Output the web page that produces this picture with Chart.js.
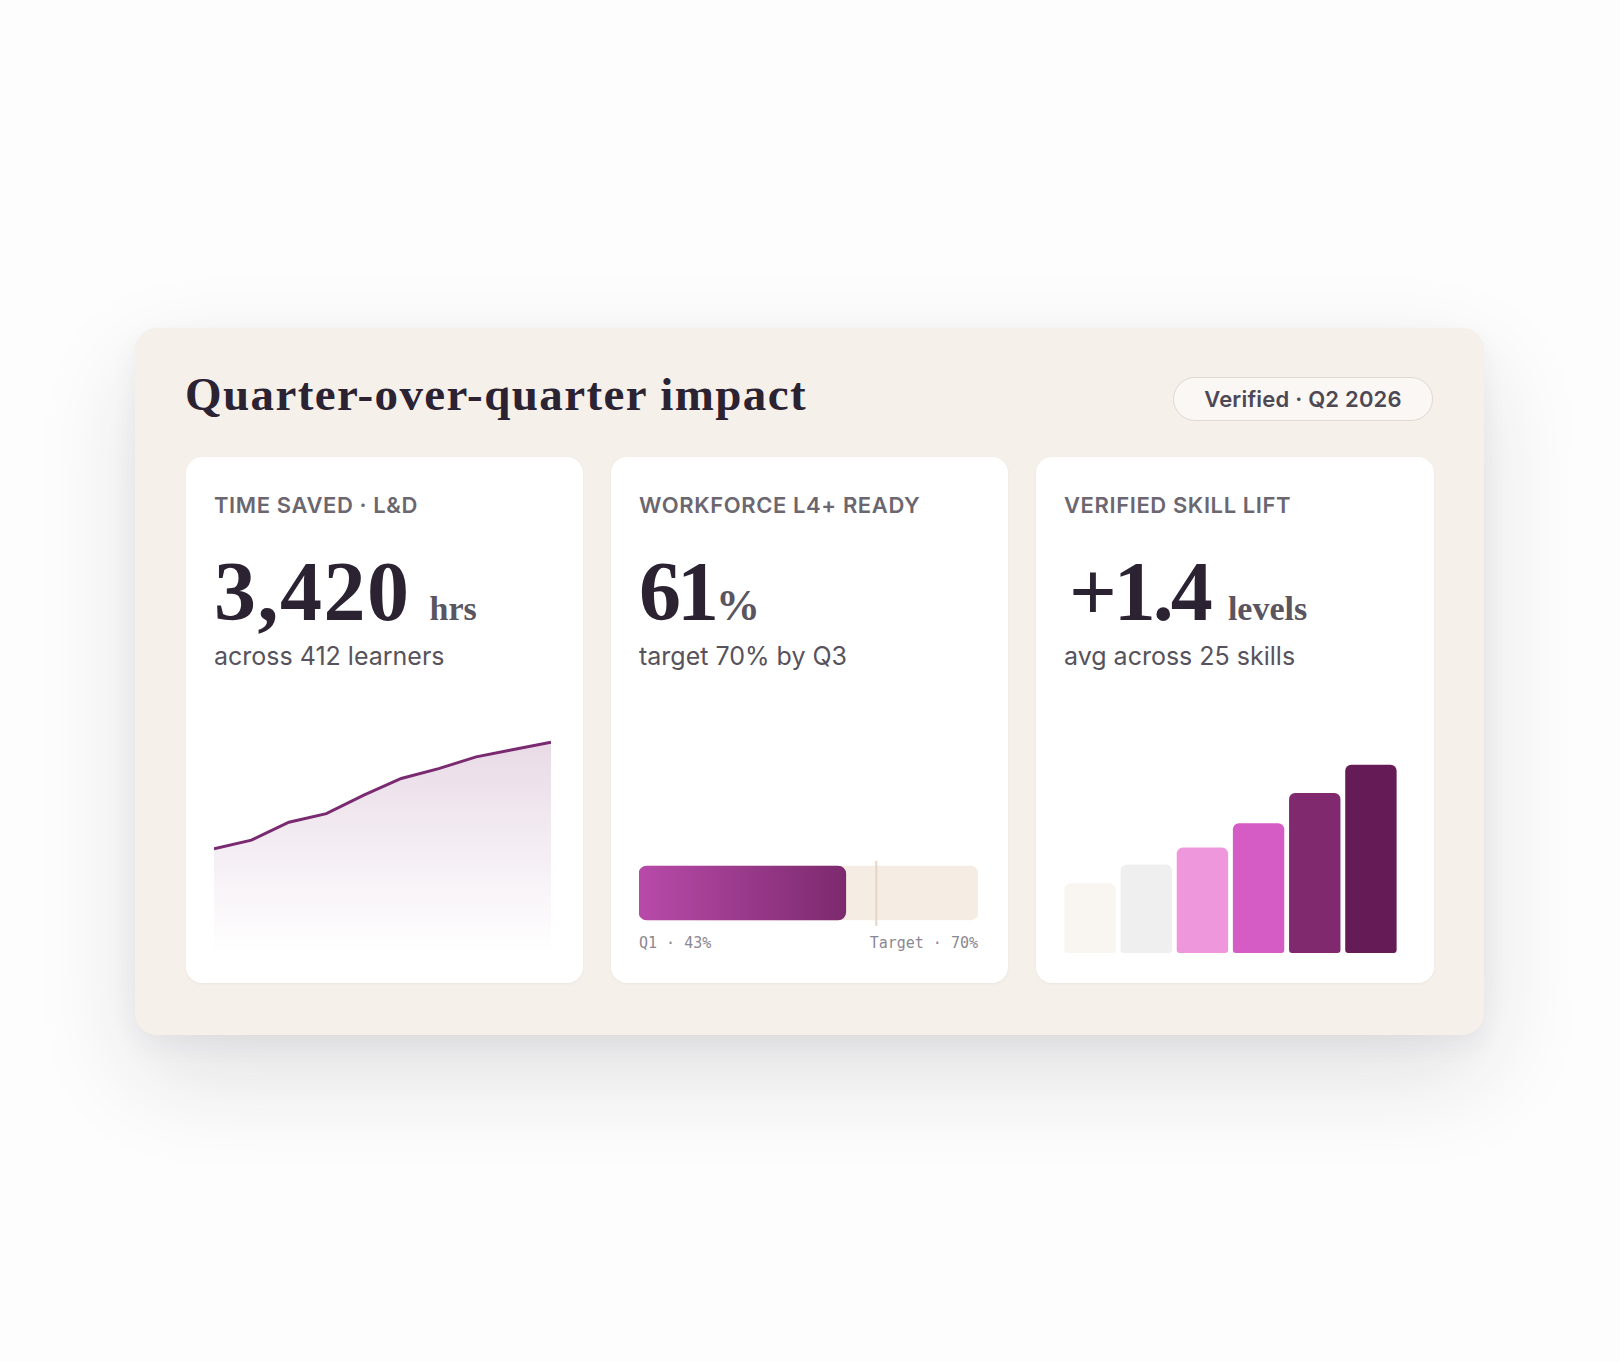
<!DOCTYPE html>
<html>
<head>
<meta charset="utf-8">
<script src="https://cdn.jsdelivr.net/npm/chart.js@4.4.1/dist/chart.umd.min.js"></script>
<style>
  html, body { margin: 0; padding: 0; }
  body { width: 1620px; height: 1362px; background: #fdfdfd; position: relative; overflow: hidden; }
  .outer {
    position: absolute; left: 135px; top: 328px; width: 1349px; height: 707px;
    background: #f5f0ea; border-radius: 22px;
    box-shadow: 0 40px 100px rgba(40, 30, 50, 0.13), 0 10px 26px rgba(40, 30, 50, 0.05);
  }
  .title {
    position: absolute; left: 50px; top: 43px; margin: 0;
    font-family: "Liberation Serif", serif; font-weight: 700; font-size: 47px; line-height: 1;
    letter-spacing: 1.4px; color: #2b2232; white-space: nowrap;
  }
  .badge {
    position: absolute; right: 51px; top: 49px; width: 258px; height: 42px;
    border: 1.5px solid #e1d9d1; border-radius: 24px; background: #faf7f4;
    display: flex; align-items: center; justify-content: center;
    font-family: Inter, sans-serif; font-weight: 600; font-size: 22px; letter-spacing: 0.2px; color: #4d4853;
  }
  .card {
    position: absolute; top: 129px; width: 397px; height: 526px;
    background: #ffffff; border-radius: 16px;
    box-shadow: 0 1px 3px rgba(80, 50, 30, 0.05);
  }
  .label {
    position: absolute; left: 28px; top: 37px; line-height: 1;
    font-family: Inter, sans-serif; font-weight: 600; font-size: 22px; letter-spacing: 0.6px;
    color: #6b6670; white-space: nowrap;
  }
  .big {
    position: absolute; left: 28px; top: 93px; line-height: 1; white-space: nowrap;
    font-family: "Liberation Serif", serif; font-weight: 700; color: #2b2232;
  }
  .big .num { font-size: 84px; }
  .big .unit { font-size: 34px; color: #5b5560; }
  .sub {
    position: absolute; left: 28px; top: 187px; line-height: 1;
    font-family: Inter, sans-serif; font-weight: 400; font-size: 25px; color: #57525c; white-space: nowrap;
  }
  .chartbox { position: absolute; }
  .mono {
    position: absolute; top: 479px; line-height: 1;
    font-family: "DejaVu Sans Mono", monospace; font-size: 15px; color: #8c8790; white-space: nowrap;
  }
</style>
</head>
<body>
<div class="outer">
  <h1 class="title">Quarter-over-quarter impact</h1>
  <div class="badge">Verified · Q2 2026</div>

  <div class="card" style="left:51px;">
    <div class="label">TIME SAVED · L&amp;D</div>
    <div class="big"><span class="num" style="letter-spacing:1.5px;">3,420</span><span class="unit" style="margin-left:19px;">hrs</span></div>
    <div class="sub">across 412 learners</div>
    <div class="chartbox" style="left:28px; top:274px; width:337px; height:222px;"><canvas id="lineChart"></canvas></div>
  </div>

  <div class="card" style="left:476px;">
    <div class="label">WORKFORCE L4+ READY</div>
    <div class="big"><span class="num" style="letter-spacing:-4px;">61</span><span class="unit" style="font-size:44px; margin-left:1px;">%</span></div>
    <div class="sub">target 70% by Q3</div>
    <div class="chartbox" style="left:28px; top:401px; width:339px; height:70px;"><canvas id="progChart"></canvas></div>
    <div class="mono" style="left:28px;">Q1 · 43%</div>
    <div class="mono" style="right:30px;">Target · 70%</div>
  </div>

  <div class="card" style="left:901px; width:398px;">
    <div class="label">VERIFIED SKILL LIFT</div>
    <div class="big" style="left:33px;"><span class="num" style="letter-spacing:-3px;">+1.4</span><span class="unit" style="margin-left:18px;">levels</span></div>
    <div class="sub">avg across 25 skills</div>
    <div class="chartbox" style="left:26px; top:289px; width:337px; height:207px;"><canvas id="barChart"></canvas></div>
  </div>
</div>

<script>
// ---- data ----
const timePeriods = ['P1', 'P2', 'P3', 'P4', 'P5', 'P6', 'P7', 'P8', 'P9', 'P10'];
const hoursSaved = [1690, 1830, 2120, 2260, 2560, 2830, 2990, 3180, 3300, 3420];

const readinessLabel = ['L4+ ready'];
const readinessNow = [61];
const readinessTrack = [100];
const readinessTarget = 70;

const skillBuckets = ['B1', 'B2', 'B3', 'B4', 'B5', 'B6'];
const skillLift = [37, 47, 56, 69, 85, 100];
const skillColors = ['#f9f5f1', '#f0efef', '#ef97dd', '#d55cc4', '#80296f', '#651b55'];

Chart.defaults.animation = false;
Chart.defaults.plugins.legend.display = false;
Chart.defaults.plugins.tooltip.enabled = false;

// ---- line / area chart ----
new Chart(document.getElementById('lineChart'), {
  type: 'line',
  data: {
    labels: timePeriods,
    datasets: [{
      data: hoursSaved,
      borderColor: '#7a2a70',
      borderWidth: 3,
      tension: 0,
      pointRadius: 0,
      fill: 'origin',
      clip: false,
      backgroundColor: (ctx) => {
        const { chart } = ctx;
        const area = chart.chartArea;
        if (!area) return 'rgba(122,42,112,0.1)';
        const g = chart.ctx.createLinearGradient(0, area.top, 0, area.bottom);
        g.addColorStop(0, 'rgba(122,42,112,0.18)');
        g.addColorStop(0.6, 'rgba(122,42,112,0.07)');
        g.addColorStop(1, 'rgba(122,42,112,0)');
        return g;
      }
    }]
  },
  options: {
    responsive: true, maintainAspectRatio: false,
    layout: { padding: 0 },
    scales: {
      x: { display: false, offset: false },
      y: { display: false, min: 0, max: 3600 }
    }
  }
});

// ---- progress bar ----
const targetPlugin = {
  id: 'targetLine',
  afterDatasetsDraw(chart) {
    const x = chart.scales.x.getPixelForValue(readinessTarget);
    const c = chart.ctx;
    c.save();
    c.strokeStyle = '#e4d7c8';
    c.lineWidth = 2;
    c.beginPath();
    c.moveTo(x, chart.chartArea.top + 3);
    c.lineTo(x, chart.chartArea.bottom - 2);
    c.stroke();
    c.restore();
  }
};
new Chart(document.getElementById('progChart'), {
  type: 'bar',
  data: {
    labels: readinessLabel,
    datasets: [
      {
        data: readinessNow, grouped: false, barThickness: 54,
        borderRadius: 8, borderSkipped: false,
        backgroundColor: (ctx) => {
          const { chart } = ctx;
          const area = chart.chartArea;
          if (!area) return '#9a3a8c';
          const x0 = chart.scales.x.getPixelForValue(0);
          const x1 = chart.scales.x.getPixelForValue(readinessNow[0]);
          const g = chart.ctx.createLinearGradient(x0, 0, x1, 0);
          g.addColorStop(0, '#b84aa9');
          g.addColorStop(1, '#7c2a6e');
          return g;
        }
      },
      {
        data: readinessTrack, grouped: false, barThickness: 54,
        borderRadius: 8, borderSkipped: false, backgroundColor: '#f5ece3'
      }
    ]
  },
  options: {
    indexAxis: 'y',
    responsive: true, maintainAspectRatio: false,
    layout: { padding: 0 },
    scales: {
      x: { display: false, min: 0, max: 100 },
      y: { display: false }
    }
  },
  plugins: [targetPlugin]
});

// ---- skill lift bars ----
new Chart(document.getElementById('barChart'), {
  type: 'bar',
  data: {
    labels: skillBuckets,
    datasets: [{
      data: skillLift,
      backgroundColor: skillColors,
      categoryPercentage: 1,
      barPercentage: 0.915,
      borderRadius: { topLeft: 6, topRight: 6, bottomLeft: 3, bottomRight: 3 },
      borderSkipped: false
    }]
  },
  options: {
    responsive: true, maintainAspectRatio: false,
    layout: { padding: 0 },
    scales: {
      x: { display: false },
      y: { display: false, min: 0, max: 110 }
    }
  }
});
</script>
</body>
</html>
